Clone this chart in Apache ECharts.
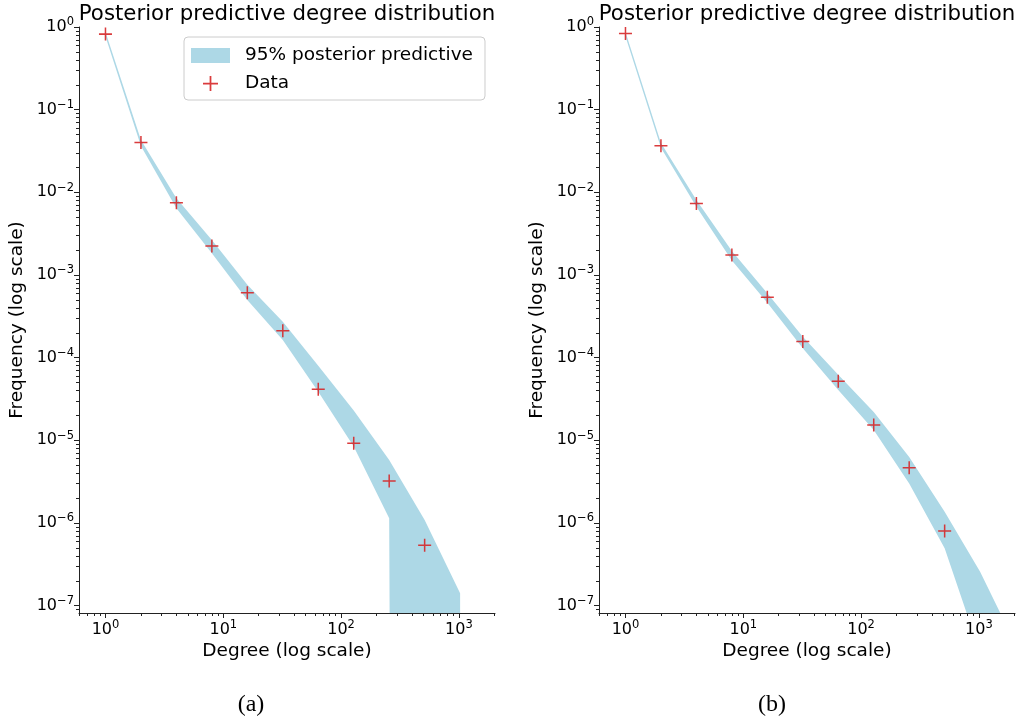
<!DOCTYPE html>
<html>
<head>
<meta charset="utf-8">
<script src="https://cdn.jsdelivr.net/npm/echarts@6/dist/echarts.min.js"></script>
<style>
html,body{margin:0;padding:0;background:#fff;}
#c{width:1019px;height:724px;}
</style>
</head>
<body>
<div id="c"></div>
<script>
// ---------- data ----------
const degreesBandA = [1, 2, 4, 8, 16, 32, 64, 128, 256, 512, 1024];
const upperA = [0.87, 0.043, 0.0085, 0.00265, 7.6e-4, 2.72e-4, 8.0e-5, 2.3e-5, 5.8e-6, 1.09e-6, 1.41e-7];
const lowerA = [0.77, 0.0363, 0.0064, 0.00183, 5.0e-4, 1.63e-4, 3.87e-5, 8.4e-6, 1.14e-6, 0, 0];

const degreesBandB = [1, 2, 4, 8, 16, 32, 64, 128, 256, 512, 1024, 2048];
const upperB = [0.87, 0.0394, 0.00805, 0.00195, 6.0e-4, 1.79e-4, 6.2e-5, 2.2e-5, 6.3e-6, 1.37e-6, 2.58e-7, 3.4e-8];
const lowerB = [0.77, 0.0345, 0.0067, 0.0015, 4.6e-4, 1.30e-4, 4.06e-5, 1.33e-5, 3.0e-6, 4.94e-7, 2.7e-8, 0];

const degreesData = [1, 2, 4, 8, 16, 32, 64, 128, 256, 512];
const dataA = [0.82, 0.040, 0.0075, 0.00224, 6.1e-4, 2.12e-4, 4.14e-5, 9.2e-6, 3.22e-6, 5.37e-7];
const dataB = [0.837, 0.0366, 0.00735, 0.00174, 5.37e-4, 1.57e-4, 5.17e-5, 1.53e-5, 4.67e-6, 8.0e-7];

const xMajorTicks = [1, 10, 100, 1000];
const yMajorTicks = [1, 1e-1, 1e-2, 1e-3, 1e-4, 1e-5, 1e-6, 1e-7];
const xRange = [0.596, 2025];
const yRange = [8.15e-8, 1];

const titleText = 'Posterior predictive degree distribution';
const xName = 'Degree (log scale)';
const yName = 'Frequency (log scale)';
const bandName = '95% posterior predictive';
const dataName = 'Data';
const captions = ['(a)', '(b)'];

// ---------- helpers ----------
const LOG_FLOOR = 1e-100; // non-positive values are clipped like matplotlib's log scale
const BAND = '#add8e6';
const RED = '#d62728';
const FONT = 'DejaVu Sans';
const PLUS = 'path://M5.3,0H6.7V5.3H12V6.7H6.7V12H5.3V6.7H0V5.3H5.3Z';

function minorTicks(lo, hi) {
  const out = [];
  for (let e = lo; e <= hi; e++) {
    for (let k = 2; k <= 9; k++) out.push(k * Math.pow(10, e));
  }
  return out;
}
const xMinor = minorTicks(-1, 3);
const yMinor = minorTicks(-8, -1);

function supLabel(v) {
  const e = Math.round(Math.log10(v));
  const s = e < 0 ? '\u2212' + (-e) : String(e);
  return '{b|10}{s|' + s + '}';
}
const labelRich = {
  b: { fontFamily: FONT, fontSize: 16, color: '#000' },
  s: { fontFamily: FONT, fontSize: 11.5, color: '#000', padding: [0, 0, 9, 0] }
};

const grids = [
  { left: 79, top: 27, width: 416, height: 586 },
  { left: 599, top: 27, width: 416, height: 586 }
];

const xAxes = [], yAxes = [];
grids.forEach((g, i) => {
  xAxes.push({
    type: 'log', logBase: 10, gridIndex: i, position: 'bottom', min: xRange[0], max: xRange[1], z: 10,
    axisLine: { show: true, lineStyle: { color: '#222', width: 1 } },
    axisTick: { show: true, length: 5, customValues: xMajorTicks, lineStyle: { color: '#222' } },
    axisLabel: { customValues: xMajorTicks, formatter: supLabel, rich: labelRich, margin: 6 },
    splitLine: { show: false }, minorTick: { show: false }
  });
  xAxes.push({
    type: 'log', logBase: 10, gridIndex: i, position: 'bottom', offset: 0, min: xRange[0], max: xRange[1], z: 10,
    axisLine: { show: false },
    axisTick: { show: true, length: 3, customValues: xMinor, lineStyle: { color: '#222' } },
    axisLabel: { show: false }, splitLine: { show: false }
  });
  yAxes.push({
    type: 'log', logBase: 10, gridIndex: i, position: 'left', min: yRange[0], max: yRange[1], z: 10,
    axisLine: { show: true, lineStyle: { color: '#222', width: 1 } },
    axisTick: { show: true, length: 5, customValues: yMajorTicks, lineStyle: { color: '#222' } },
    axisLabel: { customValues: yMajorTicks, formatter: supLabel, rich: labelRich, margin: 5 },
    splitLine: { show: false }
  });
  yAxes.push({
    type: 'log', logBase: 10, gridIndex: i, position: 'left', offset: 0, min: yRange[0], max: yRange[1], z: 10,
    axisLine: { show: false },
    axisTick: { show: true, length: 3, customValues: yMinor, lineStyle: { color: '#222' } },
    axisLabel: { show: false }, splitLine: { show: false }
  });
});

function bandSeries(panel, xs, lower, upper, nm) {
  const lo = lower.map(v => (v > 0 ? v : LOG_FLOOR));
  return {
    type: 'custom', name: nm, xAxisIndex: panel * 2, yAxisIndex: panel * 2,
    data: xs.map((x, k) => [x, upper[k], lo[k]]),
    encode: { x: 0, y: [1, 2] },
    itemStyle: { color: BAND },
    clip: true, silent: true, z: 2, animation: false,
    renderItem: function (params, api) {
      if (params.dataIndex !== 0) return null;
      const top = xs.map((x, k) => api.coord([x, upper[k]]));
      const bot = xs.map((x, k) => api.coord([x, lo[k]])).reverse();
      return {
        type: 'polygon',
        shape: { points: top.concat(bot) },
        style: { fill: BAND, stroke: null }
      };
    }
  };
}
function dataSeries(panel, ys, nm) {
  return {
    type: 'scatter', name: nm, xAxisIndex: panel * 2, yAxisIndex: panel * 2,
    data: degreesData.map((x, k) => [x, ys[k]]),
    symbol: PLUS, symbolSize: 13, itemStyle: { color: RED, opacity: 0.9 },
    z: 5, animation: false
  };
}

const series = [
  bandSeries(0, degreesBandA, lowerA, upperA, bandName),
  dataSeries(0, dataA, dataName),
  bandSeries(1, degreesBandB, lowerB, upperB, bandName + ' (b)'),
  dataSeries(1, dataB, dataName + ' (b)')
];

const graphics = [];
grids.forEach((g, i) => {
  const cx = g.left + g.width / 2;
  graphics.push({ type: 'text', x: cx, y: 14,
    style: { text: titleText, font: '21.3px "DejaVu Sans"', fill: '#000', align: 'center', verticalAlign: 'middle' } });
  graphics.push({ type: 'text', x: cx, y: 651,
    style: { text: xName, font: '18.5px "DejaVu Sans"', fill: '#000', align: 'center', verticalAlign: 'middle' } });
  graphics.push({ type: 'text', x: g.left - 62, y: g.top + g.height / 2, rotation: Math.PI / 2,
    style: { text: yName, font: '18.5px "DejaVu Sans"', fill: '#000', align: 'center', verticalAlign: 'middle' } });
  graphics.push({ type: 'text', x: i === 0 ? 251 : 772, y: 705,
    style: { text: captions[i], font: '24px "Liberation Serif"', fill: '#000', align: 'center', verticalAlign: 'middle' } });
});

const chart = echarts.init(document.getElementById('c'), null, { renderer: 'canvas' });
chart.setOption({
  backgroundColor: '#fff',
  animation: false,
  grid: grids,
  xAxis: xAxes,
  yAxis: yAxes,
  legend: {
    left: 184, top: 37, orient: 'vertical',
    padding: [9, 12, 7, 7], itemGap: 9, itemWidth: 39, itemHeight: 15,
    backgroundColor: 'rgba(255,255,255,0.8)', borderColor: '#ccc', borderWidth: 1, borderRadius: 4,
    textStyle: { fontFamily: FONT, fontSize: 18.5, color: '#000', lineHeight: 15, padding: [0, 0, 0, 10] },
    selectedMode: false,
    data: [
      { name: bandName, icon: 'rect' },
      { name: dataName, icon: PLUS }
    ]
  },
  graphic: graphics,
  series: series
});
</script>
</body>
</html>
